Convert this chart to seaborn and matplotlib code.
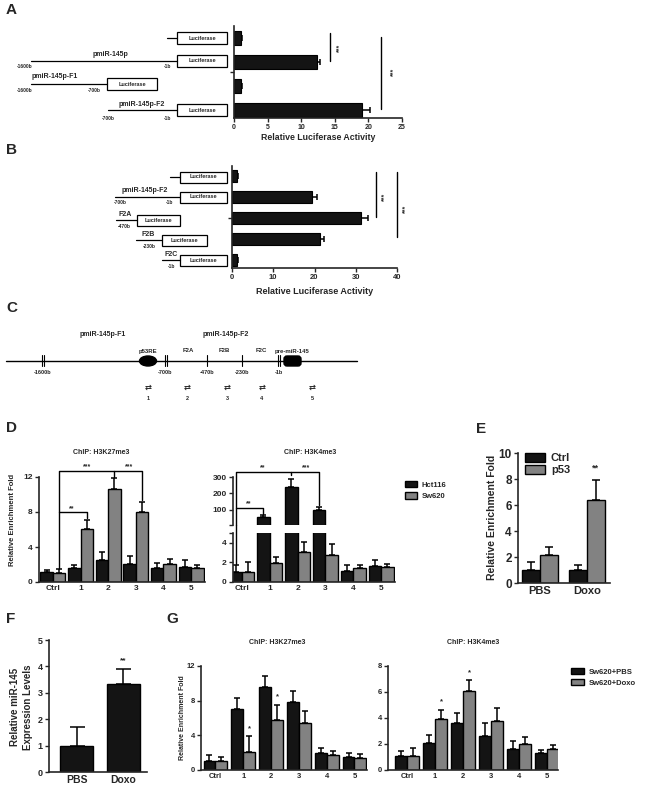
import matplotlib.pyplot as plt
import numpy as np
import pandas as pd
import seaborn as sns
from matplotlib.patches import Rectangle, Ellipse, FancyBboxPatch, Patch

# --- Panel A / B: luciferase reporter activity --------------------------------
A_constructs = ["Luciferase", "pmiR-145p", "pmiR-145p-F1", "pmiR-145p-F2"]
A_activity   = [1.1, 12.3, 1.1, 19.0]
A_err        = [0.1, 0.5, 0.15, 1.3]

B_constructs = ["Luciferase", "pmiR-145p-F2", "F2A", "F2B", "F2C"]
B_activity   = [1.1, 19.3, 31.3, 21.3, 1.2]
B_err        = [0.3, 1.3, 1.7, 0.9, 0.3]

# --- Panel D: ChIP in Hct116 / Sw620 ------------------------------------------
chip_sites   = ["Ctrl", "1", "2", "3", "4", "5"]
D_k27_hct    = [1.15, 1.65, 2.5, 2.07, 1.6, 1.73]
D_k27_hct_e  = [0.2, 0.3, 0.95, 0.85, 0.6, 0.75]
D_k27_sw     = [1.03, 6.06, 10.6, 7.98, 2.07, 1.6]
D_k27_sw_e   = [0.43, 1.05, 1.3, 1.2, 0.55, 0.4]
D_k4_hct     = [1.03, 55, 239, 98, 1.14, 1.62]
D_k4_hct_e   = [0.75, 12, 46, 20, 0.58, 0.58]
D_k4_sw      = [1.03, 1.9, 3.1, 2.76, 1.38, 1.48]
D_k4_sw_e    = [1.0, 0.7, 0.97, 1.14, 0.34, 0.32]

# --- Panel E: p53 ChIP ---------------------------------------------------------
E_treat      = ["PBS", "Doxo"]
E_ctrl       = [1.0, 1.0]
E_ctrl_e     = [0.6, 0.4]
E_p53        = [2.15, 6.35]
E_p53_e      = [0.65, 1.55]

# --- Panel F: miR-145 expression ------------------------------------------------
F_levels     = [1.0, 3.35]
F_err        = [0.7, 0.55]

# --- Panel G: ChIP in Sw620 +/- Doxo -------------------------------------------
G_k27_pbs    = [1.07, 7.0, 9.6, 7.9, 2.0, 1.55]
G_k27_pbs_e  = [0.63, 1.3, 1.3, 1.25, 0.55, 0.4]
G_k27_doxo   = [1.0, 2.1, 5.8, 5.4, 1.7, 1.35]
G_k27_doxo_e = [0.45, 1.8, 1.7, 1.4, 0.55, 0.55]
G_k4_pbs     = [1.08, 2.1, 3.6, 2.6, 1.6, 1.28]
G_k4_pbs_e   = [0.37, 0.6, 0.8, 1.05, 0.65, 0.27]
G_k4_doxo    = [1.08, 3.9, 6.1, 3.8, 2.0, 1.65]
G_k4_doxo_e  = [0.62, 0.75, 0.85, 1.0, 0.55, 0.25]

BLACK = "#141414"
GREY = "#828282"
W, H = 650, 794

sns.set_style("ticks")
plt.rcParams['font.family'] = ['Liberation Sans', 'DejaVu Sans']
plt.rcParams['font.weight'] = 'bold'
plt.rcParams['axes.linewidth'] = 1.2
plt.rcParams['xtick.major.width'] = 1.0
plt.rcParams['ytick.major.width'] = 1.0
plt.rcParams['xtick.major.size'] = 3
plt.rcParams['ytick.major.size'] = 3
plt.rcParams['xtick.major.pad'] = 1.5
plt.rcParams['ytick.major.pad'] = 1.5

fig = plt.figure(figsize=(W / 100, H / 100), dpi=100)

# overlay in pixel coordinates for the drawings and free text
ax0 = fig.add_axes([0, 0, 1, 1])
ax0.set_xlim(0, W)
ax0.set_ylim(H, 0)
ax0.axis('off')


def add_ax(l, t, r, b):
    return fig.add_axes([l / W, 1 - b / H, (r - l) / W, (b - t) / H])


def txt(x, y, s, fs, **kw):
    kw.setdefault('ha', 'center')
    kw.setdefault('va', 'center')
    ax0.text(x, y, s, fontsize=fs, **kw)


def upper_errors(ax, errs, cap, horizontal=False, floor=None):
    bars = [p for c in ax.containers for p in c]
    for p, e in zip(bars, errs):
        if floor is not None and p.get_height() < floor:
            p.set_visible(False)
            continue
        if horizontal:
            y = p.get_y() + p.get_height() / 2
            ax.errorbar(p.get_width(), y, xerr=[[0], [e]], fmt='none', ecolor='black',
                        elinewidth=1.1, capsize=cap, capthick=1.1, zorder=0.5)
        else:
            x = p.get_x() + p.get_width() / 2
            ax.errorbar(x, p.get_height(), yerr=[[0], [e]], fmt='none', ecolor='black',
                        elinewidth=1.1, capsize=cap, capthick=1.1, zorder=0.5)


def grouped(ax, cats, a, b, names, width):
    df = pd.DataFrame({'site': list(cats) * 2, 'val': list(a) + list(b),
                       'grp': [names[0]] * len(cats) + [names[1]] * len(cats)})
    sns.barplot(data=df, x='site', y='val', hue='grp', palette=[BLACK, GREY],
                saturation=1, width=width, edgecolor='black', linewidth=1,
                errorbar=None, legend=False, ax=ax)
    ax.set_xlabel('')
    ax.set_ylabel('')
    ax.tick_params(axis='x', length=0, pad=2)
    sns.despine(ax=ax)


def luc_box(x0, x1, y, h, fs):
    ax0.add_patch(Rectangle((x0, y - h / 2), x1 - x0, h, fill=False, lw=0.9, ec='black'))
    txt((x0 + x1) / 2, y, 'Luciferase', fs)


def hbar(ax, names, vals, errs, width, cap):
    df = pd.DataFrame({'c': names, 'v': vals})
    sns.barplot(data=df, x='v', y='c', orient='h', color=BLACK, saturation=1,
                width=width, edgecolor='black', linewidth=0.8, errorbar=None, ax=ax)
    upper_errors(ax, errs, cap, horizontal=True)
    ax.set_xlabel('')
    ax.set_ylabel('')
    sns.despine(ax=ax)


# =============================================================================
# A
# =============================================================================
txt(6, 10, 'A', 11, ha='left')
axA = add_ax(234, 26, 402, 118)
hbar(axA, A_constructs, A_activity, A_err, 0.55, 2.3)
axA.set_xlim(0, 25)
axA.set_xticks([0, 5, 10, 15, 20, 25])
axA.set_ylim(3.33, -0.5)
axA.set_yticks([1.42])
axA.set_yticklabels([''])
axA.tick_params(labelsize=5)
for xl, y0, y1, xs, ys in [(14.3, -0.2, 0.96, 15.8, 0.4), (21.9, -0.05, 2.95, 23.7, 1.4)]:
    axA.plot([xl, xl], [y0, y1], color='black', lw=1, clip_on=False)
    axA.text(xs, ys, '***', rotation=90, ha='center', va='center', fontsize=5, clip_on=False)
txt(318, 137, 'Relative Luciferase Activity', 6.3)

# promoter constructs
ax0.plot([167, 177], [38, 38], color='black', lw=0.9)
luc_box(177, 227, 38, 12, 4)
ax0.plot([31, 177], [61, 61], color='black', lw=0.9)
luc_box(177, 227, 61, 12, 4)
txt(110, 55, 'pmiR-145p', 5)
txt(25, 67, '-1600b', 3.5)
txt(168, 67, '-1b', 3.5)
ax0.plot([31, 107], [84, 84], color='black', lw=0.9)
luc_box(107, 157, 84, 12, 4)
txt(55, 77, 'pmiR-145p-F1', 5)
txt(25, 91, '-1600b', 3.5)
txt(94, 91, '-700b', 3.5)
ax0.plot([108, 177], [110, 110], color='black', lw=0.9)
luc_box(177, 227, 110, 12, 4)
txt(142, 104, 'pmiR-145p-F2', 5)
txt(108, 118, '-700b', 3.5)
txt(168, 118, '-1b', 3.5)

# =============================================================================
# B
# =============================================================================
txt(6, 150, 'B', 11, ha='left')
axB = add_ax(232, 166, 397, 268)
hbar(axB, B_constructs, B_activity, B_err, 0.58, 2.3)
axB.set_xlim(0, 40)
axB.set_xticks([0, 10, 20, 30, 40])
axB.set_ylim(4.4, -0.5)
axB.set_yticks([2.0])
axB.set_yticklabels([''])
axB.tick_params(labelsize=5.5)
for xl, y0, y1, xs, ys in [(34.9, -0.2, 1.97, 37.1, 0.96), (40.0, -0.2, 2.93, 42.2, 1.55)]:
    axB.plot([xl, xl], [y0, y1], color='black', lw=1, clip_on=False)
    axB.text(xs, ys, '***', rotation=90, ha='center', va='center', fontsize=5, clip_on=False)
txt(315, 291, 'Relative Luciferase Activity', 6.5)

ax0.plot([170, 180], [177, 177], color='black', lw=0.9)
luc_box(180, 227, 177, 11, 4)
ax0.plot([115, 180], [197, 197], color='black', lw=0.9)
luc_box(180, 227, 197, 11, 4)
txt(145, 191, 'pmiR-145p-F2', 5)
txt(120, 203, '-700b', 3.5)
txt(170, 203, '-1b', 3.5)
ax0.plot([116, 137], [220, 220], color='black', lw=0.9)
luc_box(137, 180, 220, 11, 4)
txt(125, 214, 'F2A', 5)
txt(124, 227, '-470b', 3.5)
ax0.plot([136, 162], [240, 240], color='black', lw=0.9)
luc_box(162, 207, 240, 11, 4)
txt(148, 234, 'F2B', 5)
txt(149, 247, '-230b', 3.5)
ax0.plot([162, 180], [260, 260], color='black', lw=0.9)
luc_box(180, 227, 260, 11, 4)
txt(171, 255, 'F2C', 5)
txt(172, 267, '-1b', 3.5)

# =============================================================================
# C  (promoter map)
# =============================================================================
txt(6, 308, 'C', 11, ha='left')
ax0.plot([6, 357], [361, 361], color='black', lw=1)
for xm in [43, 166, 279]:
    for dx in (-1.3, 1.3):
        ax0.plot([xm + dx, xm + dx], [355, 366], color='black', lw=0.8)
for xm in [207, 242]:
    ax0.plot([xm, xm], [355, 366], color='black', lw=0.8)
ax0.add_patch(Ellipse((148, 361), 17, 10, color='black'))
ax0.add_patch(FancyBboxPatch((284, 356), 17, 10, boxstyle='round,pad=0,rounding_size=3',
                             color='black'))
txt(103, 334, 'pmiR-145p-F1', 5)
txt(226, 334, 'pmiR-145p-F2', 5)
for xl, s in [(148, 'p53RE'), (188, 'F2A'), (224, 'F2B'), (261, 'F2C'), (292, 'pre-miR-145')]:
    txt(xl, 351, s, 4.3)
for xl, s in [(43, '-1600b'), (165, '-700b'), (207, '-470b'), (242, '-230b'), (279, '-1b')]:
    txt(xl, 372, s, 4)
for i, xl in enumerate([148, 187, 227, 262, 312]):
    txt(xl, 387, '\u21c4', 6, family=['DejaVu Sans'])
    txt(xl, 398, str(i + 1), 4)

# =============================================================================
# D
# =============================================================================
txt(6, 428, 'D', 11, ha='left')
txt(101, 453, 'ChIP: H3K27me3', 5)
txt(310, 453, 'ChIP: H3K4me3', 5)
txt(13, 520, 'Relative Enrichment Fold', 5.5, rotation=90)

axD1 = add_ax(39, 477, 205, 582)
grouped(axD1, chip_sites, D_k27_hct, D_k27_sw, ['Hct116', 'Sw620'], 0.9)
upper_errors(axD1, D_k27_hct_e + D_k27_sw_e, 2.2)
axD1.set_xlim(-0.5, 5.5)
axD1.set_ylim(0, 12)
axD1.set_yticks([0, 4, 8, 12])
axD1.tick_params(labelsize=6)
kw = dict(color='black', lw=1, clip_on=False)
axD1.plot([0.225, 0.225, 3.225, 3.225], [1.6, 12.7, 12.7, 9.4], **kw)
axD1.plot([2.2, 2.2], [12.7, 12.05], **kw)
axD1.plot([0.225, 1.225, 1.225], [7.97, 7.97, 7.3], **kw)
axD1.text(1.25, 12.75, '***', ha='center', va='bottom', fontsize=5, clip_on=False)
axD1.text(2.75, 12.75, '***', ha='center', va='bottom', fontsize=5, clip_on=False)
axD1.text(0.7, 8.0, '**', ha='center', va='bottom', fontsize=5, clip_on=False)

# broken y axis: lower part 0-5, upper part 5-300
axD2 = add_ax(233, 533, 395, 582)
grouped(axD2, chip_sites, D_k4_hct, D_k4_sw, ['Hct116', 'Sw620'], 0.9)
upper_errors(axD2, D_k4_hct_e + D_k4_sw_e, 2.2)
axD2.set_xlim(-0.32, 5.5)
axD2.set_ylim(0, 5)
axD2.set_yticks([0, 2, 4, 5])
axD2.set_yticklabels(['0', '2', '4', ''])
axD2.tick_params(labelsize=6)

axD3 = add_ax(233, 477, 395, 525)
grouped(axD3, chip_sites, D_k4_hct, D_k4_sw, ['Hct116', 'Sw620'], 0.9)
upper_errors(axD3, D_k4_hct_e + D_k4_sw_e, 2.2, floor=5)
axD3.set_xlim(-0.32, 5.5)
axD3.set_ylim(5, 300)
axD3.set_yticks([5, 100, 200, 300])
axD3.set_yticklabels(['', '100', '200', '300'])
axD3.spines['bottom'].set_visible(False)
axD3.set_xticks([])
axD3.tick_params(labelsize=6)

xb = -0.225
axD2.plot([xb, xb], [D_k4_hct[0] + D_k4_hct_e[0] + 0.1, 5.85], **kw)
axD3.plot([xb, xb, 2.775, 2.775], [5, 331, 331, 126], **kw)
axD3.plot([1.775, 1.775], [331, 314], **kw)
axD3.plot([xb, 0.775, 0.775], [112, 112, 73], **kw)
axD3.text(0.75, 334, '**', ha='center', va='bottom', fontsize=5, clip_on=False)
axD3.text(2.3, 334, '***', ha='center', va='bottom', fontsize=5, clip_on=False)
axD3.text(0.25, 115, '**', ha='center', va='bottom', fontsize=5, clip_on=False)

fig.legend(handles=[Patch(fc=BLACK, ec='black', label='Hct116'),
                    Patch(fc=GREY, ec='black', label='Sw620')],
           loc='upper left', bbox_to_anchor=(405 / W, 1 - 481 / H), frameon=False,
           fontsize=5.5, handlelength=1.6, handleheight=0.9, handletextpad=0.6,
           labelspacing=0.45, borderaxespad=0, borderpad=0)

# =============================================================================
# E
# =============================================================================
txt(476, 429, 'E', 11, ha='left')
axE = add_ax(518, 453, 610, 583)
grouped(axE, E_treat, E_ctrl, E_p53, ['Ctrl', 'p53'], 0.77)
upper_errors(axE, E_ctrl_e + E_p53_e, 3.2)
axE.set_xlim(-0.47, 1.49)
axE.set_ylim(0, 10)
axE.set_yticks([0, 2, 4, 6, 8, 10])
axE.tick_params(axis='y', labelsize=8.5)
axE.tick_params(axis='x', labelsize=8)
axE.text(1.19, 8.5, '**', ha='center', va='bottom', fontsize=6.5)
axE.legend(handles=[Patch(fc=BLACK, ec='black', label='Ctrl'),
                    Patch(fc=GREY, ec='black', label='p53')],
           loc='upper left', bbox_to_anchor=(0.08, 1.0), frameon=False, fontsize=8,
           handlelength=1.8, handleheight=0.85, handletextpad=0.5, labelspacing=0.15,
           borderaxespad=0, borderpad=0)
txt(492, 517, 'Relative Enrichment Fold', 7.5, rotation=90)

# =============================================================================
# F
# =============================================================================
txt(6, 619, 'F', 11, ha='left')
axF = add_ax(49, 640, 147, 772)
sns.barplot(x=E_treat, y=F_levels, color=BLACK, saturation=1, width=0.7,
            edgecolor='black', linewidth=1, errorbar=None, ax=axF)
upper_errors(axF, F_err, 5.4)
sns.despine(ax=axF)
axF.set_xlim(-0.59, 1.51)
axF.set_ylim(0, 5)
axF.set_yticks([0, 1, 2, 3, 4, 5])
axF.tick_params(axis='y', labelsize=6.5)
axF.tick_params(axis='x', length=0, labelsize=7.5, pad=2)
axF.text(1, 4.1, '**', ha='center', va='bottom', fontsize=6)
txt(15, 707, 'Relative miR-145', 7, rotation=90)
txt(28, 707, 'Expression Levels', 7, rotation=90)

# =============================================================================
# G
# =============================================================================
txt(166, 619, 'G', 11, ha='left')
txt(277, 642, 'ChIP: H3K27me3', 5)
txt(473, 642, 'ChIP: H3K4me3', 5)
txt(182, 718, 'Relative Enrichment Fold', 5, rotation=90)

axG1 = add_ax(201, 666, 367, 770)
grouped(axG1, chip_sites, G_k27_pbs, G_k27_doxo, ['Sw620+PBS', 'Sw620+Doxo'], 0.86)
upper_errors(axG1, G_k27_pbs_e + G_k27_doxo_e, 2.2)
axG1.set_xlim(-0.52, 5.45)
axG1.set_ylim(0, 12)
axG1.set_yticks([0, 4, 8, 12])
axG1.tick_params(labelsize=5.5)
axG1.text(1.215, 4.3, '*', ha='center', va='bottom', fontsize=5.5)
axG1.text(2.215, 8.0, '*', ha='center', va='bottom', fontsize=5.5)

axG2 = add_ax(388, 666, 558, 770)
grouped(axG2, chip_sites, G_k4_pbs, G_k4_doxo, ['Sw620+PBS', 'Sw620+Doxo'], 0.86)
upper_errors(axG2, G_k4_pbs_e + G_k4_doxo_e, 2.2)
axG2.set_xlim(-0.68, 5.39)
axG2.set_ylim(0, 8)
axG2.set_yticks([0, 2, 4, 6, 8])
axG2.tick_params(labelsize=5.5)
axG2.text(1.215, 4.95, '*', ha='center', va='bottom', fontsize=5.5)
axG2.text(2.215, 7.2, '*', ha='center', va='bottom', fontsize=5.5)

fig.legend(handles=[Patch(fc=BLACK, ec='black', label='Sw620+PBS'),
                    Patch(fc=GREY, ec='black', label='Sw620+Doxo')],
           loc='upper left', bbox_to_anchor=(571 / W, 1 - 668 / H), frameon=False,
           fontsize=5.5, handlelength=1.7, handleheight=0.9, handletextpad=0.6,
           labelspacing=0.4, borderaxespad=0, borderpad=0)

fig.savefig('out.png', dpi=100)
